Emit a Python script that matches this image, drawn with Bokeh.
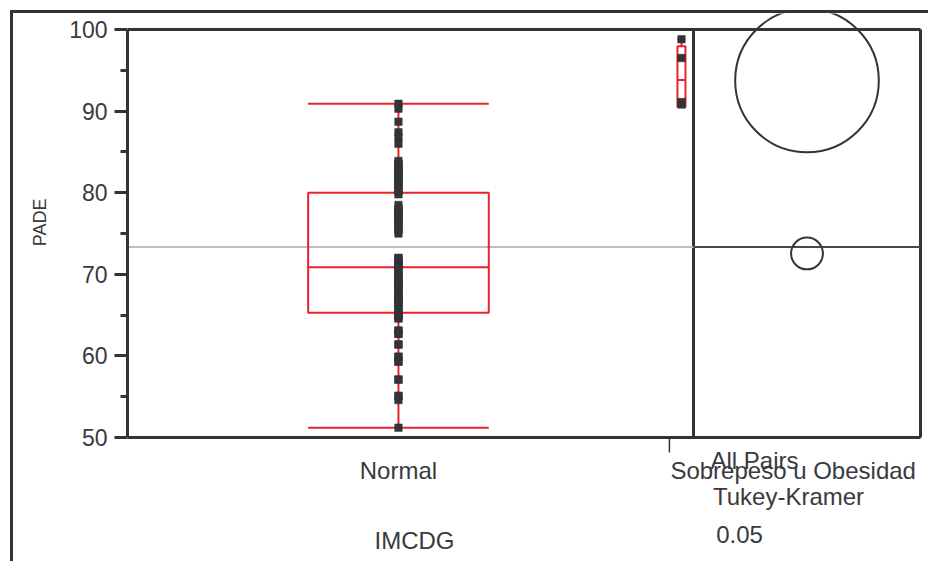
from bokeh.plotting import figure
from bokeh.models import Range1d, FixedTicker, Label, Title
from bokeh.embed import file_html
from bokeh.resources import INLINE

# ---------------- data ----------------
groups = ["Normal", "Sobrepeso u Obesidad"]
normal_pade = [
    90.9, 90.3, 88.7, 87.4, 86.8, 86.0,
    83.9, 83.5, 83.5, 83.1, 82.7, 82.7, 82.4, 82.4, 82.0, 81.6, 81.6,
    81.3, 80.9, 80.9, 80.6, 80.2, 80.2,
    79.8, 78.5, 78.0, 78.0, 77.6, 77.6, 77.2, 77.2, 76.8, 76.8, 76.3, 76.3,
    75.9, 75.5, 75.5, 75.0, 72.0, 72.0, 71.6, 71.6, 71.2, 71.2, 70.9,
    70.5, 70.5, 70.1, 69.7, 69.7, 69.3, 69.3, 68.9, 68.9, 68.5, 68.5,
    68.1, 68.1, 67.7, 67.3, 67.3, 66.9, 66.9, 66.5, 66.5, 66.1, 65.7, 65.7, 65.3,
    64.9, 64.9, 64.6, 64.6, 63.1, 63.1, 62.7, 62.7, 61.4, 61.4,
    59.9, 59.9, 59.3, 59.3, 57.1, 57.1, 55.1, 55.1, 54.6, 51.2,
]
sobrepeso_pade = [90.8, 91.1, 96.5, 98.8]

box_q1 = [65.3, 90.5]
box_median = [70.85, 93.8]
box_q3 = [80.0, 97.95]
whisker_low = [51.2, 90.5]
whisker_high = [90.9, 98.8]

group_means = [72.55, 93.75]        # comparison-circle centres
circle_radius = [1.95, 8.8]         # comparison-circle radii (PADE units)
grand_mean = 73.35

y_ticks = [50, 60, 70, 80, 90, 100]
y_minor_ticks = [55, 65, 75, 85, 95]
y_min, y_max = 50, 100

# ---------------- styling ----------------
RED = "#e5232b"
DARK = "#333338"
TXT = "#3a3a3e"
FONT = "Liberation Sans"

# ---------------- layout (pixels of the page) ----------------
AX_L, AX_T, AX_B = 127, 29, 437     # plotting box of the oneway plot
MAIN_R, EDGE_R = 693, 920           # end of main panel / end of circle panel
CANVAS_X0, CANVAS_Y0 = 13, 13       # after the 10px margin + 3px border
PAGE_W, PAGE_H = 931, 564
W, H = PAGE_W - CANVAS_X0, PAGE_H - CANVAS_Y0

counts = [len(normal_pade), len(sobrepeso_pade)]
n_total = sum(counts)
starts = [0, counts[0]]
centers = [s + c / 2 for s, c in zip(starts, counts)]
halfw = [c / 6 for c in counts]

px_per_x = (MAIN_R - AX_L) / n_total
px_per_y = (AX_B - AX_T) / float(y_max - y_min)


def ux(px):
    return (px - AX_L) / px_per_x


def uy(py):
    return y_max - (py - AX_T) / px_per_y


x_edge = ux(EDGE_R)
panel_center = n_total + (x_edge - n_total) / 2

p = figure(
    width=W, height=H,
    x_range=Range1d(0, ux(PAGE_W)), y_range=Range1d(uy(PAGE_H), uy(CANVAS_Y0)),
    x_axis_location=None,
    min_border_left=AX_L - CANVAS_X0, min_border_right=0,
    min_border_top=0, min_border_bottom=0,
    toolbar_location=None, output_backend="svg",
    background_fill_color="white", border_fill_color="white",
    styles={"margin-left": "10px", "margin-top": "10px",
            "border-left": f"3px solid {DARK}", "border-top": f"3px solid {DARK}"},
)
p.grid.visible = False
p.outline_line_color = None

# y axis
ya = p.yaxis[0]
ya.bounds = (y_min, y_max)
ya.ticker = FixedTicker(ticks=y_ticks, minor_ticks=y_minor_ticks)
ya.axis_line_color = DARK
ya.axis_line_width = 3
ya.major_tick_line_color = DARK
ya.major_tick_line_width = 3
ya.major_tick_out = 13
ya.major_tick_in = 0
ya.minor_tick_line_color = DARK
ya.minor_tick_line_width = 3
ya.minor_tick_out = 7
ya.minor_tick_in = 0
ya.major_label_standoff = 7
ya.major_label_text_font = FONT
ya.major_label_text_font_size = "23px"
ya.major_label_text_color = TXT

# y-axis title, beside the axis; its upper end placed near the top of the plotting box
p.add_layout(Title(text="PADE", align="right", vertical_align="top",
                   offset=198 - CANVAS_Y0, standoff=30,
                   text_font=FONT, text_font_size="18px", text_font_style="normal",
                   text_color=TXT), "left")

# frame: top, bottom, separator, right edge, group-boundary tick
p.segment(x0=[0, 0], x1=[x_edge, x_edge], y0=[y_max, y_min], y1=[y_max, y_min],
          line_color=DARK, line_width=3)
p.segment(x0=[n_total, x_edge], x1=[n_total, x_edge], y0=[y_min, y_min],
          y1=[y_max, y_max], line_color=DARK, line_width=3)
p.segment(x0=[starts[1]], x1=[starts[1]], y0=[y_min], y1=[uy(AX_B + 15)],
          line_color=DARK, line_width=1.5)

# grand mean line
p.segment(x0=[0], x1=[n_total], y0=[grand_mean], y1=[grand_mean],
          line_color="#c6babe", line_width=2)
p.segment(x0=[n_total], x1=[x_edge], y0=[grand_mean], y1=[grand_mean],
          line_color="#4a4a4e", line_width=2)

# boxes
left = [c - h for c, h in zip(centers, halfw)]
right = [c + h for c, h in zip(centers, halfw)]
p.quad(left=left, right=right, bottom=box_q1, top=box_q3,
       fill_color=None, line_color=RED, line_width=2)
p.segment(x0=left, x1=right, y0=box_median, y1=box_median, line_color=RED, line_width=2)
p.segment(x0=centers, x1=centers, y0=box_q3, y1=whisker_high, line_color=RED, line_width=2)
p.segment(x0=centers, x1=centers, y0=box_q1, y1=whisker_low, line_color=RED, line_width=2)
p.segment(x0=left, x1=right, y0=whisker_high, y1=whisker_high, line_color=RED, line_width=2)
p.segment(x0=left, x1=right, y0=whisker_low, y1=whisker_low, line_color=RED, line_width=2)

# points
p.scatter(x=[centers[0]] * len(normal_pade), y=normal_pade, marker="square",
          size=7.5, fill_color=DARK, line_color=DARK, line_width=0.5)
p.scatter(x=[centers[1]] * len(sobrepeso_pade), y=sobrepeso_pade, marker="square",
          size=7.5, fill_color=DARK, line_color=DARK, line_width=0.5)

# comparison circles
p.circle(x=[panel_center] * 2, y=group_means, radius=circle_radius,
         radius_dimension="y", fill_color=None, line_color=DARK, line_width=2)


# texts
def lab(text, px, py, align="center", size="24px"):
    p.add_layout(Label(x=ux(px), y=uy(py), text=text, text_align=align,
                       text_baseline="middle",
                       text_font=FONT, text_font_size=size, text_color=TXT))


lab(groups[0], AX_L + centers[0] * px_per_x, 470)
lab(groups[1], AX_L + starts[1] * px_per_x + 1, 470, align="left")
lab("All Pairs", 754, 460)
lab("Tukey-Kramer", 788, 496)
lab("0.05", 739, 534)
lab("IMCDG", 414, 540)

open("out.html", "w").write(file_html(p, INLINE))
